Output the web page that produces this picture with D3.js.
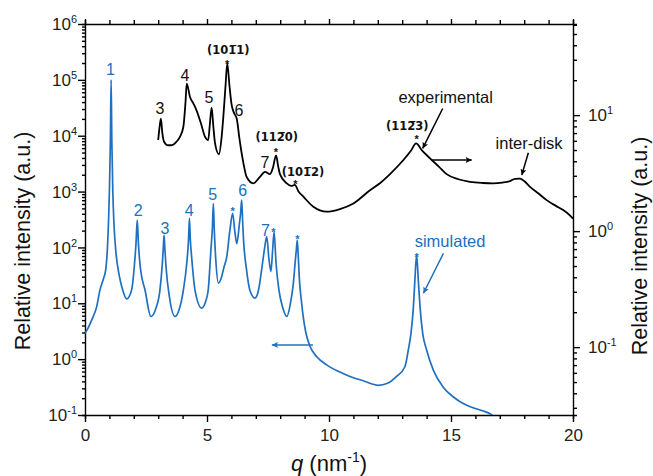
<!DOCTYPE html>
<meta charset="utf-8">
<style>
body { margin: 0; background: #fff; }
svg { display: block; font-family: "Liberation Sans", Arial, sans-serif; }
.axis path, .axis line { stroke: #000; stroke-width: 1.4px; }
.axis text { font-size: 17px; fill: #222; font-family: "Liberation Sans", Arial, sans-serif; }
.miller { font-family: "DejaVu Sans", Verdana, sans-serif; font-weight: bold; font-size: 11.5px; fill: #111; }
</style>
<svg width="653" height="476"></svg>
<script src="https://d3js.org/d3.v7.min.js"></script>
<script>

// simulated pattern, left axis  [q, intensity]
var simulated = [
  [0.0, 2.9], [0.15, 3.8], [0.3, 5.3], [0.48, 8.7], [0.61, 17], [0.75, 27], [0.85, 40], [0.92, 100],
  [0.97, 350], [1.0, 1000], [1.04, 8000], [1.07, 100000], [1.1, 8000], [1.14, 1000], [1.19, 250],
  [1.27, 80], [1.4, 32], [1.55, 17], [1.71, 12],
  [1.91, 17.3], [2.02, 45], [2.06, 75], [2.09, 117], [2.14, 309], [2.19, 117], [2.23, 65],
  [2.28, 39.5], [2.46, 17.3], [2.7, 5.8],
  [2.9, 8], [3.07, 17], [3.17, 52], [3.21, 100], [3.24, 166], [3.27, 100], [3.32, 45], [3.46, 13],
  [3.69, 5.8],
  [3.85, 7.5], [4.03, 17], [4.17, 52], [4.24, 130], [4.28, 333], [4.32, 130], [4.37, 68], [4.51, 17],
  [4.78, 8.2],
  [4.95, 11], [5.05, 17.3], [5.16, 90], [5.22, 220], [5.26, 610], [5.3, 200], [5.36, 60], [5.47, 23],
  [5.6, 30], [5.7, 45], [5.81, 68], [5.94, 206], [6.05, 407], [6.15, 178], [6.22, 117],
  [6.33, 270], [6.38, 420], [6.42, 700], [6.46, 300], [6.49, 156], [6.62, 40], [6.76, 17], [6.97, 12.4],
  [7.12, 18], [7.24, 40], [7.35, 90], [7.45, 156], [7.53, 68], [7.62, 37], [7.69, 90], [7.75, 191],
  [7.83, 52], [7.95, 17], [8.1, 8.5], [8.27, 5.8],
  [8.42, 10], [8.54, 23], [8.61, 52], [8.66, 90], [8.7, 135], [8.74, 70], [8.78, 30], [8.88, 10],
  [8.95, 5.5], [9.05, 3], [9.22, 1.7], [9.5, 1.1], [9.9, 0.79], [10.4, 0.6], [10.86, 0.49],
  [11.4, 0.41], [12.02, 0.34], [12.4, 0.37], [12.77, 0.49], [13.11, 0.73], [13.25, 1.46],
  [13.36, 2.9], [13.46, 8.7], [13.52, 26], [13.59, 73], [13.66, 26], [13.73, 8.7], [13.84, 2.9],
  [14.0, 1.46], [14.28, 0.63], [14.69, 0.31], [15.1, 0.21], [15.5, 0.16], [15.9, 0.135],
  [16.4, 0.115], [16.7, 0.1]
];

// experimental pattern, right axis  [q, intensity]
var experimental = [
  [3.0, 6.1], [3.06, 8], [3.11, 9.3], [3.17, 7], [3.24, 5.9], [3.4, 5.5], [3.55, 5.5], [3.75, 5.9],
  [3.89, 6.5], [4.03, 7.9], [4.12, 13], [4.17, 18.7], [4.3, 14.4], [4.45, 12.5], [4.57, 11],
  [4.75, 8.5], [4.92, 6.5], [5.05, 6.1], [5.12, 8.5], [5.19, 11.6], [5.26, 8], [5.33, 5.7],
  [5.49, 4.6], [5.6, 6.5], [5.67, 9.7], [5.76, 18], [5.83, 27.9], [5.92, 18], [6.0, 12.6],
  [6.1, 10.5], [6.22, 9.3], [6.32, 6.5], [6.42, 4.7], [6.52, 3.6], [6.62, 2.94], [6.9, 2.58],
  [7.17, 2.94], [7.38, 3.24], [7.58, 3.1], [7.7, 3.5], [7.83, 4.5], [7.92, 3.6], [7.99, 3.1],
  [8.27, 2.58], [8.45, 2.45], [8.6, 2.5], [8.75, 2.2], [8.95, 1.98], [9.36, 1.62], [9.9, 1.47],
  [10.45, 1.55], [11.0, 1.73], [11.68, 2.25], [12.1, 2.6], [12.5, 3.1], [13.05, 4.1], [13.35, 4.9],
  [13.57, 5.7], [13.8, 5.0], [14.14, 4.24], [14.5, 3.6], [14.82, 3.1], [15.3, 2.8], [15.78, 2.66],
  [16.3, 2.6], [16.73, 2.58], [17.1, 2.62], [17.42, 2.7], [17.62, 2.82], [17.83, 2.84], [18.0, 2.7],
  [18.24, 2.41], [18.6, 2.1], [18.92, 1.85], [19.3, 1.65], [19.6, 1.52], [19.85, 1.38], [20.0, 1.28]
];

var xTickLabels = [0, 5, 10, 15, 20];
var leftDecades = [-1, 0, 1, 2, 3, 4, 5, 6];
var rightDecades = [-1, 0, 1];

// peak labels [text, q, intensity]
var simLabels = [["1", 1.04, 1.55e5], ["2", 2.18, 468], ["3", 3.28, 220], ["4", 4.27, 454],
  ["5", 5.23, 904], ["6", 6.46, 1035], ["7", 7.4, 205]];
var simStars = [[6.05, 501], [7.72, 214], [8.7, 155], [13.59, 76]];
var expLabels = [["3", 3.07, 11.5], ["4", 4.1, 22.1], ["5", 5.08, 14.3], ["6", 6.31, 11.0], ["7", 7.38, 3.96]];
var expStars = [[5.83, 28.8], [7.82, 5.1], [8.62, 2.66], [13.59, 6.6]];
var millerLabels = [["(101\u03051)", 5.87, 36.5], ["(112\u03050)", 7.86, 6.5], ["(101\u03052)", 8.93, 3.3], ["(112\u03053)", 13.21, 8.1]];

var blue = "#2070c0";

var svg = d3.select("svg");
var mLeft = 85, mRight = 573, mTop = 24, mBottom = 415;

var x = d3.scaleLinear().domain([0, 20]).range([mLeft, mRight]);
var yL = d3.scaleLog().domain([0.1, 1e6]).range([mBottom, mTop]);
var yR = d3.scaleLog().domain([0.026, 61]).range([mBottom, mTop]);

var defs = svg.append("defs");
defs.append("clipPath").attr("id", "clip").append("rect")
  .attr("x", mLeft).attr("y", mTop).attr("width", mRight - mLeft).attr("height", mBottom - mTop);
[["arrBlack", "#000"], ["arrBlue", blue]].forEach(function (m) {
  defs.append("marker").attr("id", m[0])
    .attr("viewBox", "0 0 10 10").attr("refX", 10).attr("refY", 5)
    .attr("markerWidth", 10).attr("markerHeight", 6).attr("markerUnits", "userSpaceOnUse")
    .attr("orient", "auto")
    .append("path").attr("d", "M0,0L10,5L0,10L2,5z").attr("fill", m[1]);
});

// axes
function sizeTicks(g, major, minor, isMajor) {
  g.selectAll(".tick line").each(function (d) {
    var l = d3.select(this), len = isMajor(d) ? major : minor;
    if (l.attr("x2") != null && +l.attr("x2") !== 0) l.attr("x2", +l.attr("x2") > 0 ? len : -len);
    if (l.attr("y2") != null && +l.attr("y2") !== 0) l.attr("y2", +l.attr("y2") > 0 ? len : -len);
  });
}
var isDecade = function (d) { return Math.abs(Math.log10(d) - Math.round(Math.log10(d))) < 1e-6; };
var isFive = function (d) { return d % 5 === 0; };

var gB = svg.append("g").attr("class", "axis").attr("transform", "translate(0," + mBottom + ")")
  .call(d3.axisBottom(x).tickValues(d3.range(0, 21)).tickSizeOuter(0).tickSize(4)
    .tickFormat(function (d) { return xTickLabels.indexOf(d) >= 0 ? d : ""; }));
sizeTicks(gB, 7, 4, isFive);
gB.selectAll(".tick text").attr("dy", "0.9em").attr("y", 11);

var gT = svg.append("g").attr("class", "axis").attr("transform", "translate(0," + mTop + ")")
  .call(d3.axisTop(x).tickValues(d3.range(0, 21)).tickSizeOuter(0).tickSize(4).tickFormat(""));
sizeTicks(gT, 5, 4, isFive);

var gL = svg.append("g").attr("class", "axis").attr("transform", "translate(" + mLeft + ",0)")
  .call(d3.axisLeft(yL).tickValues(yL.ticks()).tickSizeOuter(0).tickSize(3).tickFormat(""));
sizeTicks(gL, 7, 3, isDecade);

var gR = svg.append("g").attr("class", "axis").attr("transform", "translate(" + mRight + ",0)")
  .call(d3.axisRight(yR).tickValues(yR.ticks()).tickSizeOuter(0).tickSize(4).tickFormat(""));
sizeTicks(gR, 7, 4, isDecade);

function powLabel(g, xpos, ypos, anchor, e) {
  var t = g.append("text").attr("x", xpos).attr("y", ypos).attr("dy", "0.36em")
    .attr("text-anchor", anchor).style("font-size", "17px").attr("fill", "#222");
  t.append("tspan").text("10");
  t.append("tspan").attr("dy", -7).style("font-size", "11px").text(e < 0 ? "-" + (-e) : e);
}
leftDecades.forEach(function (e) { powLabel(svg, mLeft - 8, yL(Math.pow(10, e)), "end", e); });
rightDecades.forEach(function (e) { powLabel(svg, mRight + 15, yR(Math.pow(10, e)), "start", e); });

// axis titles
svg.append("text").attr("transform", "translate(30,241) rotate(-90)")
  .attr("text-anchor", "middle").style("font-size", "21.5px").attr("fill", "#111").text("Relative intensity (a.u.)");
svg.append("text").attr("transform", "translate(647,246) rotate(-90)")
  .attr("text-anchor", "middle").style("font-size", "21.5px").attr("fill", "#111").text("Relative intensity (a.u.)");
var xt = svg.append("text").attr("x", (mLeft + mRight) / 2).attr("y", 471).attr("text-anchor", "middle")
  .style("font-size", "22px").attr("fill", "#111");
xt.append("tspan").style("font-style", "italic").text("q");
xt.append("tspan").text(" (nm");
xt.append("tspan").attr("dy", -9).style("font-size", "14px").text("-1");
xt.append("tspan").attr("dy", 9).text(")");

// curves
var plot = svg.append("g").attr("clip-path", "url(#clip)");
plot.append("path").datum(simulated)
  .attr("d", d3.line().curve(d3.curveMonotoneX)
    .x(function (d) { return x(d[0]); }).y(function (d) { return yL(d[1]); }))
  .attr("fill", "none").attr("stroke", blue).attr("stroke-width", 1.7).attr("stroke-linejoin", "round");
plot.append("path").datum(experimental)
  .attr("d", d3.line().curve(d3.curveMonotoneX)
    .x(function (d) { return x(d[0]); }).y(function (d) { return yR(d[1]); }))
  .attr("fill", "none").attr("stroke", "#000").attr("stroke-width", 1.8).attr("stroke-linejoin", "round");

// peak labels
svg.selectAll(".simlab").data(simLabels).enter().append("text")
  .attr("x", function (d) { return x(d[1]); }).attr("y", function (d) { return yL(d[2]); })
  .attr("dy", "0.36em").attr("text-anchor", "middle").style("font-size", "16px").attr("fill", blue)
  .text(function (d) { return d[0]; });
svg.selectAll(".simstar").data(simStars).enter().append("text")
  .attr("x", function (d) { return x(d[0]); }).attr("y", function (d) { return yL(d[1]); })
  .attr("dy", "0.6em").attr("text-anchor", "middle").style("font-size", "11px").style("font-weight", "bold")
  .attr("fill", blue).text("*");
svg.selectAll(".explab").data(expLabels).enter().append("text")
  .attr("x", function (d) { return x(d[1]); }).attr("y", function (d) { return yR(d[2]); })
  .attr("dy", "0.36em").attr("text-anchor", "middle").style("font-size", "16px").attr("fill", "#111")
  .text(function (d) { return d[0]; });
svg.selectAll(".expstar").data(expStars).enter().append("text")
  .attr("x", function (d) { return x(d[0]); }).attr("y", function (d) { return yR(d[1]); })
  .attr("dy", "0.6em").attr("text-anchor", "middle").style("font-size", "11px").style("font-weight", "bold")
  .attr("fill", "#111").text("*");
svg.selectAll(".miller").data(millerLabels).enter().append("text").attr("class", "miller")
  .attr("x", function (d) { return x(d[1]); }).attr("y", function (d) { return yR(d[2]); })
  .attr("dy", "0.4em").attr("text-anchor", "middle")
  .text(function (d) { return d[0]; });

// annotations and arrows
function arrow(x1, y1, x2, y2, color, id) {
  svg.append("line").attr("x1", x1).attr("y1", y1).attr("x2", x2).attr("y2", y2)
    .attr("stroke", color).attr("stroke-width", 1.5).attr("marker-end", "url(#" + id + ")");
}
svg.append("text").attr("x", x(14.78)).attr("y", yR(14.4)).attr("dy", "0.35em").attr("text-anchor", "middle")
  .style("font-size", "16.5px").attr("fill", "#111").text("experimental");
arrow(x(14.66), yR(11.4), x(13.84), yR(5.16), "#000", "arrBlack");
arrow(x(14.2), yR(4.1), x(15.85), yR(4.1), "#000", "arrBlack");
svg.append("text").attr("x", x(18.2)).attr("y", yR(5.7)).attr("dy", "0.35em").attr("text-anchor", "middle")
  .style("font-size", "16.5px").attr("fill", "#111").text("inter-disk");
arrow(x(18.17), yR(4.73), x(17.9), yR(3.04), "#000", "arrBlack");
svg.append("text").attr("x", x(14.96)).attr("y", yL(130)).attr("dy", "0.35em").attr("text-anchor", "middle")
  .style("font-size", "16.5px").attr("fill", blue).text("simulated");
arrow(x(14.69), yL(78.5), x(13.87), yL(15.1), blue, "arrBlue");
arrow(x(9.34), yL(1.8), x(7.66), yL(1.8), blue, "arrBlue");

</script>
